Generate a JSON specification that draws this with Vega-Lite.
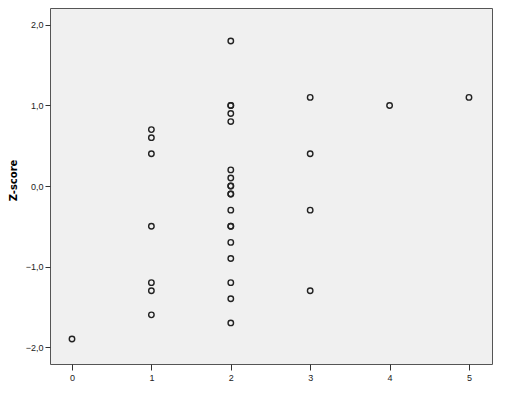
{
  "$schema": "https://vega.github.io/schema/vega-lite/v6.json",
  "width": 442,
  "height": 356,
  "autosize": "none",
  "padding": {"left": 50, "top": 8, "right": 31, "bottom": 38},
  "background": "white",
  "config": {
    "view": {"fill": "#f0f0f0", "stroke": "#555555", "strokeWidth": 1},
    "font": "Liberation Sans"
  },
  "data": {
    "values": [
      {"x": 0, "z": -1.9},
      {"x": 1, "z": 0.7}, {"x": 1, "z": 0.6}, {"x": 1, "z": 0.4}, {"x": 1, "z": -0.5},
      {"x": 1, "z": -1.2}, {"x": 1, "z": -1.3}, {"x": 1, "z": -1.6},
      {"x": 2, "z": 1.8}, {"x": 2, "z": 1.0}, {"x": 2, "z": 1.0}, {"x": 2, "z": 0.9}, {"x": 2, "z": 0.8},
      {"x": 2, "z": 0.2}, {"x": 2, "z": 0.1}, {"x": 2, "z": 0.0}, {"x": 2, "z": 0.0},
      {"x": 2, "z": -0.1}, {"x": 2, "z": -0.1}, {"x": 2, "z": -0.3},
      {"x": 2, "z": -0.5}, {"x": 2, "z": -0.5}, {"x": 2, "z": -0.7}, {"x": 2, "z": -0.9},
      {"x": 2, "z": -1.2}, {"x": 2, "z": -1.4}, {"x": 2, "z": -1.7},
      {"x": 3, "z": 1.1}, {"x": 3, "z": 0.4}, {"x": 3, "z": -0.3}, {"x": 3, "z": -1.3},
      {"x": 4, "z": 1.0},
      {"x": 5, "z": 1.1}
    ]
  },
  "mark": {"type": "point", "shape": "circle", "filled": false, "size": 30, "stroke": "#222222", "strokeWidth": 1.4, "opacity": 1},
  "encoding": {
    "x": {
      "field": "x", "type": "quantitative",
      "scale": {"domain": [-0.277, 5.29], "nice": false, "zero": false},
      "axis": {
        "title": null, "values": [0, 1, 2, 3, 4, 5], "grid": false, "domain": false,
        "tickColor": "#333333", "tickSize": 6, "labelFontSize": 9, "labelColor": "#222222",
        "labelPadding": 3, "format": "d"
      }
    },
    "y": {
      "field": "z", "type": "quantitative",
      "scale": {"domain": [-2.21, 2.21], "nice": false, "zero": false},
      "axis": {
        "title": "Z-score", "titleFontSize": 10, "titleFontWeight": "bold", "titleColor": "#000000",
        "titleFont": "DejaVu Sans",
        "titleX": -37, "titleY": 172, "titleAngle": -90, "titleAlign": "center", "titleBaseline": "middle",
        "values": [-2, -1, 0, 1, 2], "grid": false, "domain": false,
        "tickColor": "#333333", "tickSize": 5, "labelFontSize": 9, "labelColor": "#222222",
        "labelPadding": 2,
        "labelExpr": "replace(format(datum.value, '.1f'), '.', ',')"
      }
    }
  }
}
